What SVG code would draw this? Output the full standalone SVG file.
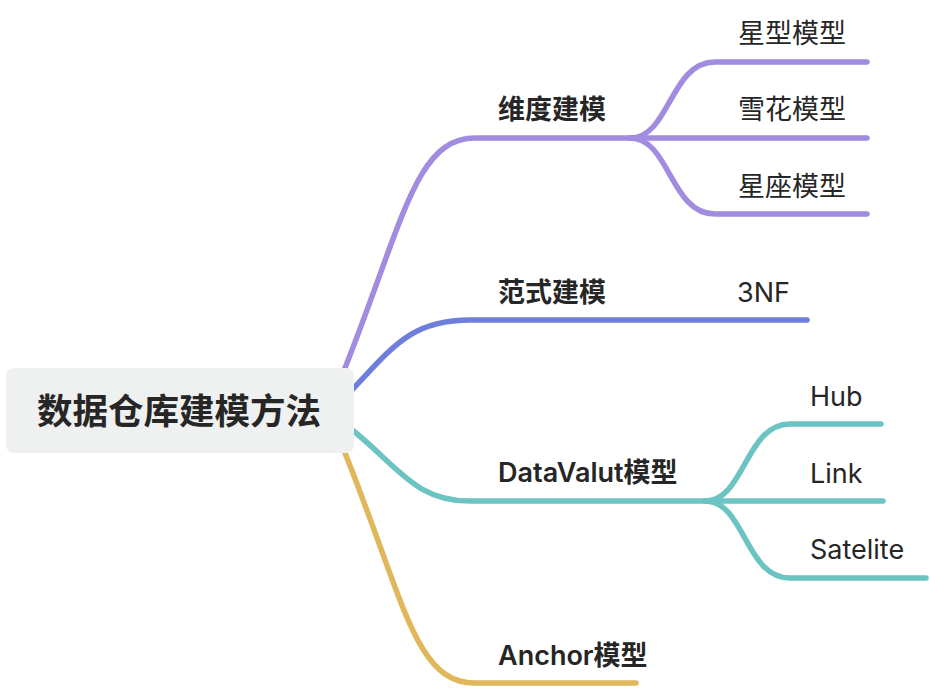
<svg xmlns="http://www.w3.org/2000/svg" width="930" height="688" viewBox="0 0 930 688">
<style>
.c{fill:none;stroke-linecap:round;stroke-linejoin:round}
.p{stroke:#a28ce0;stroke-width:5.5}
.b{stroke:#6d7fdb;stroke-width:5.5}
.t{stroke:#6cc4c2;stroke-width:5.5}
.g{stroke:#e0b75a;stroke-width:5.5}
.root{font-family:Inter,"Noto Sans CJK SC",sans-serif;font-size:35.5px;font-weight:bold;fill:#262626}
.br{font-family:Inter,"Noto Sans CJK SC",sans-serif;font-size:27px;font-weight:600;fill:#262626}
.lf{font-family:Inter,"Noto Sans CJK SC",sans-serif;font-size:27px;fill:#262626}
</style>
<g id="connectors">
<path class="c p" d="M343 373 C403 223 415 138 475 138 H640"/>
<path class="c p" d="M630 138 C670 138 670 62 715 62 H867"/>
<path class="c p" d="M630 138 H867"/>
<path class="c p" d="M630 138 C670 138 670 214 715 214 H867"/>
<path class="c b" d="M350 392 C392 348 410 320 470 320 H807"/>
<path class="c t" d="M350 428 C400 468 415 501 470 501 H715"/>
<path class="c t" d="M705 501 C745 501 745 424 790 424 H881"/>
<path class="c t" d="M705 501 H883"/>
<path class="c t" d="M705 501 C745 501 745 578 790 578 H926"/>
<path class="c g" d="M345 453 C405 603 415 683 475 683 H636"/>
</g>
<g id="root">
<rect x="6" y="368" width="348" height="85" rx="8" fill="#eff0f0"/>
<text class="root" x="179" y="424" text-anchor="middle">数据仓库建模方法</text>
</g>
<g id="n-dim"><text class="br" x="498" y="119">维度建模</text></g>
<g id="n-star"><text class="lf" x="738" y="43">星型模型</text></g>
<g id="n-snow"><text class="lf" x="738" y="119">雪花模型</text></g>
<g id="n-const"><text class="lf" x="738" y="196">星座模型</text></g>
<g id="n-norm"><text class="br" x="498" y="302">范式建模</text></g>
<g id="n-3nf"><text class="lf" x="737" y="302">3NF</text></g>
<g id="n-dv"><text class="br" x="498" y="482">DataValut模型</text></g>
<g id="n-hub"><text class="lf" x="810" y="406">Hub</text></g>
<g id="n-link"><text class="lf" x="810" y="483">Link</text></g>
<g id="n-sat"><text class="lf" x="810" y="559">Satelite</text></g>
<g id="n-anchor"><text class="br" x="498" y="665">Anchor模型</text></g>
</svg>
